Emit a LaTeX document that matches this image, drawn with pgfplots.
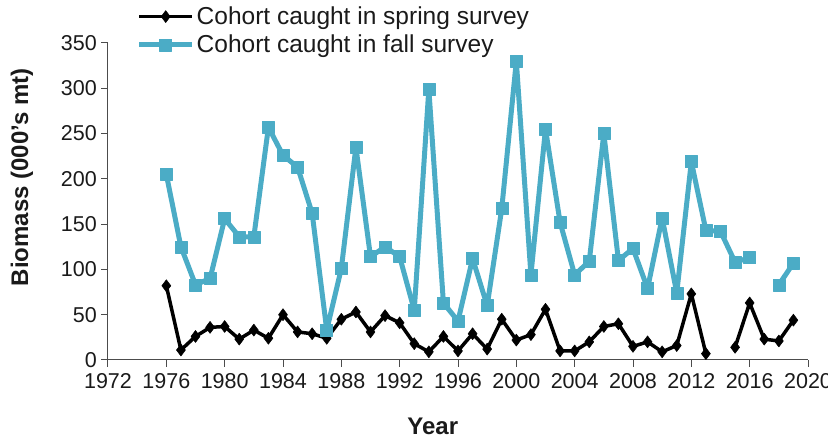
\documentclass[border=0pt]{standalone}
\usepackage{fontspec}
\setmainfont{Liberation Sans}
\usepackage{pgfplots}
\pgfplotsset{compat=1.18}
\definecolor{aqua}{HTML}{4BACC6}
\definecolor{txt}{HTML}{1A1A1A}
\begin{document}
\begin{tikzpicture}
\begin{axis}[
  scale only axis,
  width=700pt, height=317pt,
  xmin=1972, xmax=2020, ymin=0, ymax=350,
  axis x line*=bottom, axis y line*=left,
  axis line style={-, draw=black!70, line width=1pt},
  xtick={1972,1976,...,2020},
  ytick={0,50,...,350},
  minor x tick num=3,
  tick align=outside,
  major tick length=7pt, minor tick length=6pt,
  tick style={draw=black!70, line width=1pt},
  /pgf/number format/assume math mode=true,
  /pgf/number format/1000 sep={},
  ticklabel style={font=\fontsize{21.5}{25}\selectfont, text=txt},
  xticklabel style={inner sep=6pt},
  yticklabel style={inner sep=4pt},
  xlabel={Year}, ylabel={Biomass (000's mt)},
  label style={font=\fontsize{24}{28}\selectfont\bfseries, text=txt, inner sep=0pt},
  xlabel style={at={(axis description cs:0.464,-0.208)}, anchor=center},
  ylabel style={at={(axis description cs:-0.123,0.577)}, anchor=center},
  unbounded coords=jump,
  legend style={draw=none, fill=none, at={(axis description cs:0.041,1.12)}, anchor=north west,
    font=\fontsize{24.5}{28}\selectfont, text=txt, inner sep=0pt, outer sep=0pt,
    row sep=5pt, legend cell align=left},
  legend image code/.code={\draw[mark repeat=2,mark phase=2,#1] plot coordinates {(0pt,0pt) (26.5pt,0pt) (53pt,0pt)};},
]
\addplot[black, line width=3.5pt, line join=round, mark=diamond*, mark size=6pt, mark options={solid, line width=0.5pt}] coordinates {
(1976,82) (1977,11) (1978,26) (1979,36) (1980,37) (1981,23) (1982,33) (1983,24) (1984,50)
(1985,31) (1986,29) (1987,24) (1988,45) (1989,53) (1990,31) (1991,49) (1992,41) (1993,18)
(1994,9) (1995,26) (1996,10) (1997,29) (1998,12) (1999,45) (2000,22) (2001,28) (2002,56)
(2003,10) (2004,10) (2005,20) (2006,37) (2007,40) (2008,15) (2009,20) (2010,9) (2011,16)
(2012,73) (2013,7) (2014,nan) (2015,14) (2016,63) (2017,23) (2018,21) (2019,44)};
\addlegendentry{Cohort caught in spring survey}
\addplot[aqua, line width=5pt, line join=round, mark=square*, mark size=6pt, mark options={solid, line width=0.5pt}] coordinates {
(1976,205) (1977,125) (1978,83) (1979,90) (1980,156) (1981,136) (1982,136) (1983,257)
(1984,226) (1985,213) (1986,162) (1987,33) (1988,101) (1989,235) (1990,114) (1991,125)
(1992,114) (1993,55) (1994,299) (1995,63) (1996,43) (1997,112) (1998,60) (1999,167)
(2000,330) (2001,94) (2002,255) (2003,152) (2004,94) (2005,109) (2006,250) (2007,110)
(2008,123) (2009,79) (2010,157) (2011,74) (2012,219) (2013,143) (2014,142) (2015,108)
(2016,113) (2017,nan) (2018,83) (2019,107)};
\addlegendentry{Cohort caught in fall survey}
\end{axis}
\pgfresetboundingbox
\path (-108pt,-75pt) rectangle (720pt,360pt);
\end{tikzpicture}
\end{document}
